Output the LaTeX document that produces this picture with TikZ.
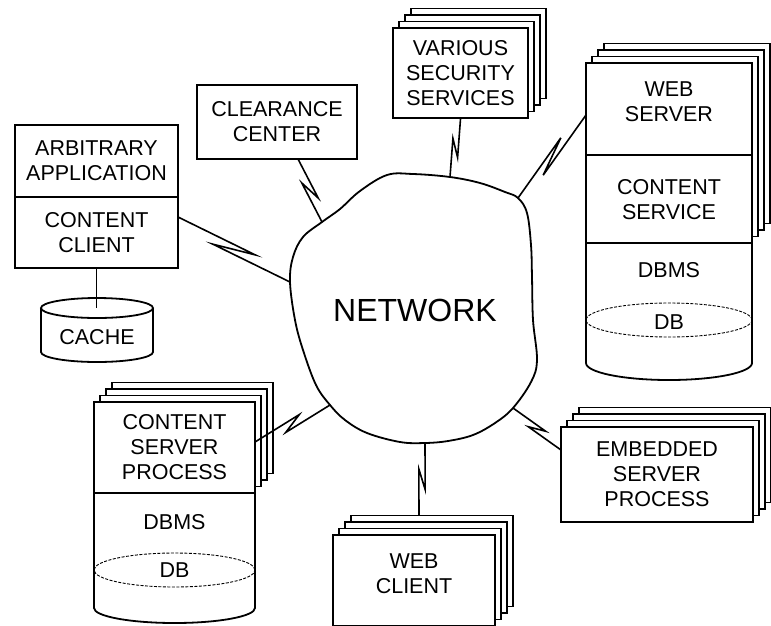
\documentclass[tikz,border=0pt]{standalone}
\usepackage{fontspec}
\setmainfont{Liberation Sans}
\usetikzlibrary{calc,shadows}
\begin{document}
\begin{tikzpicture}[x=1pt,y=-1pt, line join=miter,
  lw/.style={line width=1.8pt},
  txt/.style={font=\fontsize{21.5}{25}\selectfont},
  box/.style={draw, lw, fill=white, inner sep=0pt, align=center, txt},
  lbl/.style={inner sep=0pt, align=center, txt},
  stack/.style={
    general shadow={draw, lw, fill=white, shadow xshift=18pt, shadow yshift=19.5pt},
    general shadow={draw, lw, fill=white, shadow xshift=12pt, shadow yshift=13pt},
    general shadow={draw, lw, fill=white, shadow xshift=6pt, shadow yshift=6.5pt}},
  zap/.style 2 args={to path={
    -- ($(\tikztostart)!0.5!(\tikztotarget)!#1!(\tikztotarget)!#2!90:(\tikztotarget)$)
    -- ($(\tikztostart)!0.5!(\tikztotarget)!-#1!(\tikztotarget)!#2!-90:(\tikztotarget)$)
    -- (\tikztotarget)}},
  link/.style={line width=1.6pt},
  dbline/.style={dashed, line width=0.9pt, dash pattern=on 3pt off 1.5pt}
]
\useasboundingbox (0,0) rectangle (771,625);
\clip (0,0) rectangle (771,625);

% ---------- network cloud ----------
\draw[lw] plot[smooth cycle, tension=0.6] coordinates {
  (290,282) (293,257) (303,237) (322,222) (340,209) (360,191) (387,175) (413,174)
  (450,177) (480,183) (505,192) (518,198) (527,213) (531,245) (532,277) (533,320)
  (537,360) (531,382) (513,408) (495,423) (473,435) (448,441) (425,443) (400,442)
  (367,433) (345,420) (330,405) (316,385) (303,350) (295,320)};
\node[font=\fontsize{32}{38}\selectfont, inner sep=0pt] (net) at (415,310) {NETWORK};

\coordinate (nL) at (290,282);
\coordinate (nCl) at (322,222);
\coordinate (nSec) at (450,177);
\coordinate (nWS) at (518,198);
\coordinate (nEmb) at (513,408);
\coordinate (nWC) at (425,443);
\coordinate (nCS) at (330,405);

% ---------- arbitrary application / content client ----------
\node[box, minimum width=163pt, minimum height=72pt] (app) at (96.5,161) {ARBITRARY\\APPLICATION};
\node[box, minimum width=163pt, minimum height=71pt] (cli) at (96.5,232.5) {CONTENT\\CLIENT};

% ---------- cache ----------
\draw[lw, fill=white] (41,308) -- (41,352) arc[start angle=180, end angle=360, x radius=56pt, y radius=10pt] -- (153,308);
\draw[lw, fill=white] (97,308) ellipse [x radius=56pt, y radius=10pt];
\node[lbl] (cache) at (97,337) {CACHE};
\coordinate (cachetop) at (97,308);
\draw[link] (cli.south) -- (cli.south |- cachetop);

% ---------- clearance center ----------
\node[box, minimum width=160pt, minimum height=74pt] (clr) at (277,122) {CLEARANCE\\CENTER};

% ---------- security services ----------
\node[box, stack, minimum width=135pt, minimum height=90pt] (sec) at (460.5,73) {VARIOUS\\SECURITY\\SERVICES};

% ---------- web server ----------
\draw[lw, fill=white] (586,243) -- (586,363) arc[start angle=180, end angle=360, x radius=83pt, y radius=17pt] -- (752,243);
\draw[dbline] (669,320) ellipse [x radius=83pt, y radius=17pt];
\node[lbl] (wsdbms) at (669,270) {DBMS};
\node[lbl] (wsdb) at (669,322) {DB};
\node[box, stack, minimum width=166pt, minimum height=180pt] (wsg) at (669,153) {};
\coordinate (wsdiv) at (0,155);
\draw[lw] (wsg.west |- wsdiv) -- (wsg.east |- wsdiv);
\node[lbl] (ws) at (669,102) {WEB\\SERVER};
\node[lbl] (csv) at (669,199.5) {CONTENT\\SERVICE};

% ---------- embedded server process ----------
\node[box, stack, minimum width=192pt, minimum height=95pt] (emb) at (657,474.5) {EMBEDDED\\SERVER\\PROCESS};

% ---------- web client ----------
\node[box, stack, minimum width=162pt, minimum height=91pt] (wc) at (414,580.5) {};
\node[lbl] (wcl) at (414,573.5) {WEB\\CLIENT};

% ---------- content server process ----------
\draw[lw, fill=white] (94,493) -- (94,608) arc[start angle=180, end angle=360, x radius=80.5pt, y radius=15pt] -- (255,493);
\draw[dbline] (174.5,570) ellipse [x radius=80.5pt, y radius=17pt];
\node[lbl] (csdbms) at (174.5,522) {DBMS};
\node[lbl] (csdb) at (174.5,570) {DB};
\node[box, stack, minimum width=161pt, minimum height=91pt] (csp) at (174.5,447.5) {CONTENT\\SERVER\\PROCESS};

% ---------- attachment points ----------
\coordinate (aCli) at (178,217);
\coordinate (aClr) at (298,159);
\coordinate (aWS) at (586,115);
\coordinate (aEmb) at (561,450);
\coordinate (aWC) at (419,515.5);
\coordinate (aCS) at (255,442);

% ---------- connectors ----------
\draw[link] (aCli) to[zap={21pt}{6pt}] (nL);
\draw[link] (aClr) to[zap={10pt}{5pt}] (nCl);
\draw[link] (sec.south) to[zap={9pt}{4pt}] (nSec);
\draw[link] (aWS) to[zap={20pt}{5pt}] (nWS);
\draw[link] (aEmb) to[zap={8pt}{4pt}] (nEmb);
\draw[link] (aWC) to[zap={10pt}{4pt}] (nWC);
\draw[link] (aCS) to[zap={10pt}{5pt}] (nCS);
\end{tikzpicture}
\end{document}
